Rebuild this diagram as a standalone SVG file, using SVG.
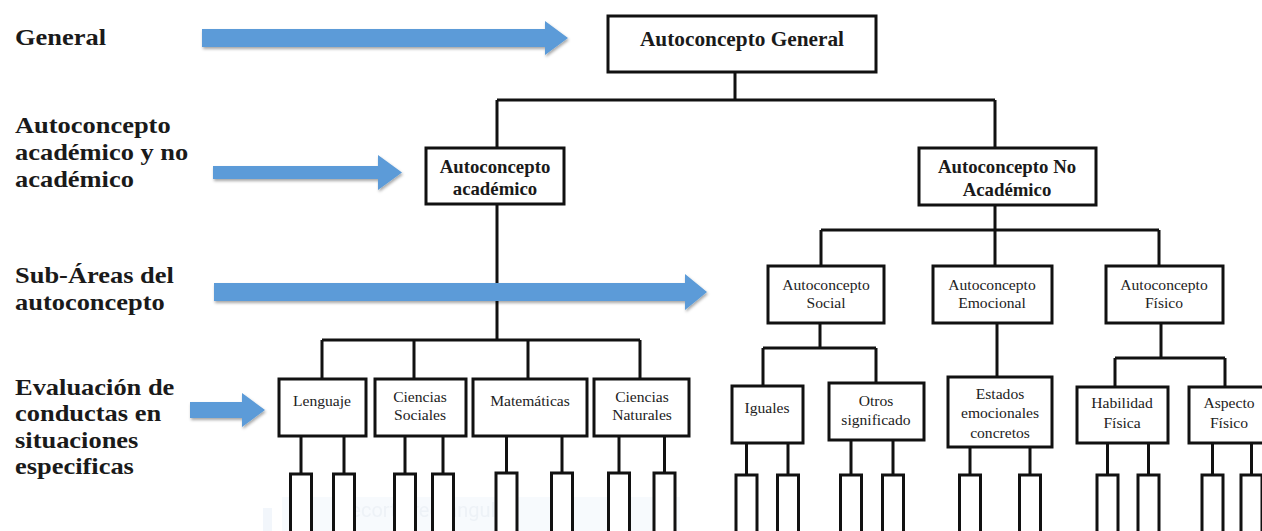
<svg xmlns="http://www.w3.org/2000/svg" width="1262" height="531" viewBox="0 0 1262 531">
<style>
.bx{fill:#fff;stroke:#111;stroke-width:3}
.lf{fill:#fff;stroke:#111;stroke-width:3}
.ln{fill:none;stroke:#111;stroke-width:3}
text{font-family:'Liberation Serif','Times New Roman',Tinos,'DejaVu Serif',serif}
.lbl{font-weight:bold;font-size:23px;fill:#1a1a1a}
.t1{font-weight:bold;font-size:21.3px;fill:#1a1a1a;text-anchor:middle}
.t2{font-weight:bold;font-size:18.8px;fill:#1a1a1a;text-anchor:middle}
.t3{font-size:15.6px;fill:#222;text-anchor:middle}
.arr{fill:#5b9bd8;filter:url(#sh)}
</style>
<defs>
<filter id="sh" x="-5%" y="-40%" width="110%" height="200%">
<feDropShadow dx="1" dy="2" stdDeviation="1.6" flood-color="#000" flood-opacity="0.35"/>
</filter>
</defs>
<rect width="1262" height="531" fill="#fff"/>

<g id="watermark" opacity="0.5">
<rect x="282" y="497" width="398" height="40" fill="#f1f6fc"/>
<rect x="263" y="508" width="9" height="30" fill="#e6eef8"/>
<text x="338" y="517" style="font-family:Roboto,sans-serif" font-size="20" fill="#dde6f0">Recorte rectangular</text>
</g>

<g id="left-labels" transform="translate(15,0) scale(1.15,1)">
<text class="lbl" x="0" y="45">General</text>
<text class="lbl" x="0" y="133">Autoconcepto</text>
<text class="lbl" x="0" y="160">académico y no</text>
<text class="lbl" x="0" y="187">académico</text>
<text class="lbl" x="0" y="283">Sub-Áreas del</text>
<text class="lbl" x="0" y="310">autoconcepto</text>
<text class="lbl" x="0" y="395">Evaluación de</text>
<text class="lbl" x="0" y="421.5">conductas en</text>
<text class="lbl" x="0" y="448">situaciones</text>
<text class="lbl" x="0" y="474.5">especificas</text>
</g>

<g id="connectors">
<path class="ln" d="M735 72V100M497 100H995M497 100V148M995 100V148"/>
<path class="ln" d="M497 204V340M322 340H640M322 340V379M414 340V379M528 340V379M640 340V379"/>
<path class="ln" d="M995 205V230M821 230H1159M821 230V266M995 230V266M1159 230V266"/>
<path class="ln" d="M820 323V348M763 348H876M763 348V386M876 348V383"/>
<path class="ln" d="M997 323V377"/>
<path class="ln" d="M1161 323V358M1115 358H1225M1115 358V387M1225 358V387"/>
<path class="ln" d="M301 436V474M344 436V474M405 436V474M443 436V474M506.5 436V474M562 436V474M619 436V474M664.5 436V474"/>
<path class="ln" d="M746.5 443V475M788 443V475M851 440V475M893 440V475M970 447V475M1030 447V475M1107.5 443V475M1148.5 443V475M1212.5 443V475M1251.5 443V475"/>
</g>

<g id="arrows">
<path class="arr" d="M202 29H545V21L568 38L545 55V47H202Z"/>
<path class="arr" d="M213 166H378V155L402 172.5L378 190V179H213Z"/>
<path class="arr" d="M214 283H685V274L707 292L685 310V301H214Z"/>
<path class="arr" d="M190 402H242V393L265 410L242 427V418H190Z"/>
</g>

<g id="n-general"><rect class="bx" x="608" y="16" width="268" height="56"/><text class="t1" x="742" y="46">Autoconcepto General</text></g>
<g id="n-academico"><rect class="bx" x="426" y="148" width="138" height="56"/><text class="t2" x="495" y="173">Autoconcepto</text><text class="t2" x="495" y="195">académico</text></g>
<g id="n-noacademico"><rect class="bx" x="919" y="148" width="177" height="57"/><text class="t2" x="1007" y="173">Autoconcepto No</text><text class="t2" x="1007" y="196">Académico</text></g>

<g id="n-social"><rect class="bx" x="768" y="266" width="116" height="57"/><text class="t3" x="826" y="290">Autoconcepto</text><text class="t3" x="826" y="308">Social</text></g>
<g id="n-emocional"><rect class="bx" x="933" y="266" width="119" height="57"/><text class="t3" x="992" y="290">Autoconcepto</text><text class="t3" x="992" y="308">Emocional</text></g>
<g id="n-fisico"><rect class="bx" x="1106" y="266" width="117" height="57"/><text class="t3" x="1164" y="290">Autoconcepto</text><text class="t3" x="1164" y="308">Físico</text></g>

<g id="n-lenguaje"><rect class="bx" x="279" y="379" width="87" height="57"/><text class="t3" x="322" y="406">Lenguaje</text></g>
<g id="n-csociales"><rect class="bx" x="375" y="379" width="91" height="57"/><text class="t3" x="420" y="402">Ciencias</text><text class="t3" x="420" y="420">Sociales</text></g>
<g id="n-matematicas"><rect class="bx" x="473" y="379" width="114" height="57"/><text class="t3" x="530" y="406">Matemáticas</text></g>
<g id="n-cnaturales"><rect class="bx" x="594" y="379" width="95" height="57"/><text class="t3" x="642" y="402">Ciencias</text><text class="t3" x="642" y="420">Naturales</text></g>

<g id="n-iguales"><rect class="bx" x="732" y="386" width="71" height="57"/><text class="t3" x="767" y="413">Iguales</text></g>
<g id="n-otros"><rect class="bx" x="829" y="383" width="95" height="57"/><text class="t3" x="876" y="406">Otros</text><text class="t3" x="876" y="425">significado</text></g>
<g id="n-estados"><rect class="bx" x="948" y="377" width="104" height="70"/><text class="t3" x="1000" y="399">Estados</text><text class="t3" x="1000" y="418">emocionales</text><text class="t3" x="1000" y="438">concretos</text></g>
<g id="n-habilidad"><rect class="bx" x="1077" y="387" width="91" height="56"/><text class="t3" x="1122" y="408">Habilidad</text><text class="t3" x="1122" y="428">Física</text></g>
<g id="n-aspecto"><rect class="bx" x="1189" y="387" width="80" height="56"/><text class="t3" x="1229" y="408">Aspecto</text><text class="t3" x="1229" y="428">Físico</text></g>

<g id="leaves">
<rect class="lf" x="290.5" y="474" width="21" height="70"/>
<rect class="lf" x="333.5" y="474" width="21" height="70"/>
<rect class="lf" x="394.5" y="474" width="21" height="70"/>
<rect class="lf" x="432.5" y="474" width="21" height="70"/>
<rect class="lf" x="496" y="473" width="21" height="70"/>
<rect class="lf" x="551.5" y="473" width="21" height="70"/>
<rect class="lf" x="608.5" y="473" width="21" height="70"/>
<rect class="lf" x="654" y="473" width="21" height="70"/>
<rect class="lf" x="736" y="475" width="21" height="70"/>
<rect class="lf" x="777.5" y="475" width="21" height="70"/>
<rect class="lf" x="840.5" y="475" width="21" height="70"/>
<rect class="lf" x="882.5" y="475" width="21" height="70"/>
<rect class="lf" x="959.5" y="475" width="21" height="70"/>
<rect class="lf" x="1019.5" y="475" width="21" height="70"/>
<rect class="lf" x="1097" y="475" width="21" height="70"/>
<rect class="lf" x="1138" y="475" width="21" height="70"/>
<rect class="lf" x="1202" y="475" width="21" height="70"/>
<rect class="lf" x="1241" y="475" width="21" height="70"/>
</g>
</svg>
